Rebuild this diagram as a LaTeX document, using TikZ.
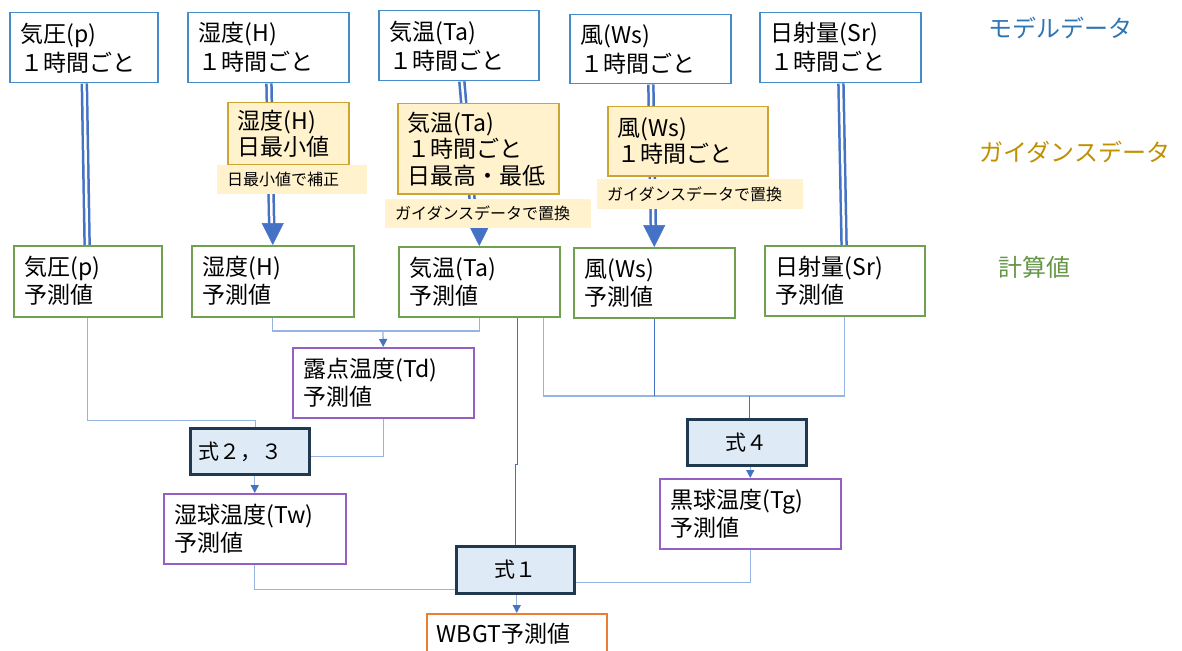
\documentclass[tikz,border=0pt]{standalone}
\usepackage{fontspec}
\setmainfont{Noto Sans CJK JP}
\usetikzlibrary{arrows.meta}
\definecolor{modelblue}{RGB}{70,140,205}
\definecolor{guidegold}{RGB}{205,165,50}
\definecolor{guidefill}{RGB}{255,242,204}
\definecolor{predgreen}{RGB}{112,160,80}
\definecolor{calcpurple}{RGB}{150,95,195}
\definecolor{eqfill}{RGB}{222,235,247}
\definecolor{eqnavy}{RGB}{32,56,80}
\definecolor{wbgtorange}{RGB}{237,125,49}
\definecolor{lineblue}{RGB}{68,114,196}
\definecolor{linelight}{RGB}{150,180,225}
\definecolor{labelblue}{RGB}{46,117,182}
\definecolor{labelgold}{RGB}{191,144,0}
\definecolor{labelgreen}{RGB}{100,150,70}

\begin{document}
\begin{tikzpicture}[x=1pt,y=-1pt]
			\tikzstyle{bx} = [anchor=north west, inner xsep=11pt, inner ysep=2pt, align=left, font=\fontsize{23}{29}\selectfont, line width=1.5pt, fill=white]
			\tikzstyle{md} = [bx, draw=modelblue]
			\tikzstyle{pr} = [bx, draw=predgreen, font=\fontsize{23}{28}\selectfont]
			\tikzstyle{tc} = [bx, draw=calcpurple, font=\fontsize{23}{28}\selectfont]
			\tikzstyle{gd} = [bx, draw=guidegold, fill=guidefill, inner xsep=10pt, font=\fontsize{23}{26.5}\selectfont]
			\tikzstyle{gl} = [anchor=north west, fill=guidefill, inner xsep=10pt, inner ysep=0pt, align=left, font=\fontsize{16}{18}\selectfont]
			\tikzstyle{eq} = [bx, draw=eqnavy, fill=eqfill, line width=2.8pt, inner xsep=8pt, font=\fontsize{21}{24}\selectfont]
			\tikzstyle{dl} = [draw=lineblue, double=white, line width=2.5pt, double distance=2.5pt]
			\tikzstyle{bt} = [lineblue, line width=0.5pt, -{Triangle[width=22pt,length=22pt]}]
			\tikzstyle{cn} = [linelight, line width=1.3pt]
			\tikzstyle{cd} = [lineblue, line width=1pt]
			\tikzstyle{ar} = [cn, -{Triangle[width=8pt,length=8pt,color=lineblue]}]
			\useasboundingbox (0,0) rectangle (1182,650);
			% model data
			\node [md, text width=126pt, minimum height=70pt] (mp) at (9,12) {気圧(p)\\１時間ごと};
			\node [md, text width=139pt, minimum height=70pt] (mh) at (187,12) {湿度(H)\\１時間ごと};
			\node [md, text width=138pt, minimum height=70pt] (mt) at (378,10) {気温(Ta)\\１時間ごと};
			\node [md, text width=139pt, minimum height=69pt] (mw) at (569,14) {風(Ws)\\１時間ごと};
			\node [md, text width=139pt, minimum height=70pt] (ms) at (759,12) {日射量(Sr)\\１時間ごと};
			% predicted values
			\node [pr, text width=126pt, minimum height=71pt] (pp) at (13,245) {気圧(p)\\予測値};
			\node [pr, text width=140pt, minimum height=71pt] (ph) at (191,245) {湿度(H)\\予測値};
			\node [pr, text width=139pt, minimum height=70pt] (pt) at (398,246) {気温(Ta)\\予測値};
			\node [pr, text width=139pt, minimum height=70pt] (pw) at (573,247) {風(Ws)\\予測値};
			\node [pr, text width=138pt, minimum height=70pt] (ps) at (764,245) {日射量(Sr)\\予測値};
			% model -> predicted
			\draw [dl] (mp) -- (pp);
			\draw [dl, shorten >=21pt] (mh) -- (ph);
			\draw [bt] ([yshift=22pt]ph.north) -- (ph.north);
			\draw [dl, shorten >=21pt] (mt) -- (pt);
			\draw [bt] ([yshift=22pt]pt.north) -- (pt.north);
			\draw [dl, shorten >=21pt] (mw) -- (pw);
			\draw [bt] ([yshift=22pt]pw.north) -- (pw.north);
			\draw [dl] (ms) -- (ps);
			% guidance data
			\node [gd, text width=101pt, minimum height=62pt] (gh) at (227,102) {湿度(H)\\日最小値};
			\node [gd, text width=141pt, minimum height=90pt] (gt) at (397,103) {気温(Ta)\\１時間ごと\\日最高・最低};
			\node [gd, text width=140pt, minimum height=69pt] (gw) at (607,106) {風(Ws)\\１時間ごと};
			\node [gl, text width=130pt, minimum height=29pt] (lh) at (217,165) {日最小値で補正};
			\node [gl, text width=186pt, minimum height=29pt] (lt) at (385,199) {ガイダンスデータで置換};
			\node [gl, text width=186pt, minimum height=30pt] (lw) at (597,179) {ガイダンスデータで置換};
			% derived values and formulas
			\node [tc, text width=159pt, minimum height=70pt] (td) at (292,347) {露点温度(Td)\\予測値};
			\node [eq, text width=103pt, minimum height=46pt] (f23) at (189,427) {式２，３};
			\node [tc, text width=160pt, minimum height=70pt] (tw) at (163,493) {湿球温度(Tw)\\予測値};
			\node [eq, text width=103pt, minimum height=46pt, align=center] (f4) at (686,418) {式４};
			\node [tc, text width=159pt, minimum height=70pt] (tg) at (659,478) {黒球温度(Tg)\\予測値};
			\node [eq, text width=102pt, minimum height=47pt, align=center] (f1) at (455,545) {式１};
			\node [bx, draw=wbgtorange, inner xsep=10pt, text width=160pt, minimum height=40pt] (wb) at (426,613) {WBGT予測値};
			\coordinate (jd) at (383,331);
			\coordinate (jg) at (749,396);
			\draw [cn] (ph.south) |- (jd);
			\draw [cn] (pt.south) |- (jd);
			\draw [ar] (jd) -- (td.north);
			\draw [cn] (pp.south) -- ++(0,103) -| ([xshift=5.5pt]f23.north);
			\draw [cn] (td.south) |- ([yshift=-5pt]f23.east);
			\draw [ar] (f23.south -| tw.north) -- (tw.north);
			\draw [cd] ([xshift=38pt]pt.south) -- ++(0,147) -| (f1.north);
			\draw [cn] ([xshift=64.5pt]pt.south) |- (jg);
			\draw [cd] (pw.south) -- (pw.south |- jg);
			\draw [cn] (ps.south) |- (jg);
			\draw [cd] (jg) -- (jg |- f4.north);
			\draw [ar] (f4.south -| tg.north) -- (tg.north);
			\draw [cn] (tw.south) |- ([yshift=-19.5pt]f1.west);
			\draw [cn] (tg.south) |- ([yshift=-12.5pt]f1.east);
			\draw [ar] (f1.south -| wb.north) -- (wb.north);
			% row labels
			\node [font=\fontsize{24}{28}\selectfont, text=labelblue] (lmodel) at (1060,28) {モデルデータ};
			\node [font=\fontsize{24}{28}\selectfont, text=labelgold] (lguide) at (1075,152) {ガイダンスデータ};
			\node [font=\fontsize{24}{28}\selectfont, text=labelgreen] (lcalc) at (1034,267) {計算値};
		\end{tikzpicture}
\end{document}
